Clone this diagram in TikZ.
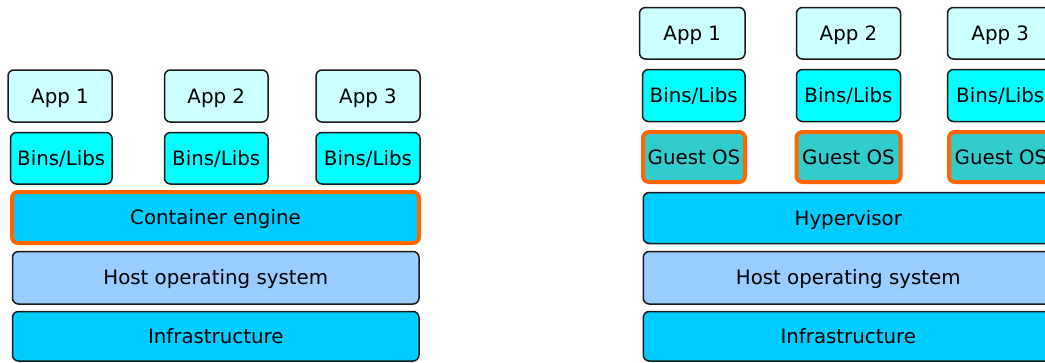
\documentclass[tikz,border=0pt]{standalone}
\usepackage{fontspec}
\setmainfont{DejaVu Sans}
\definecolor{appfill}{HTML}{CCFFFF}
\definecolor{binsfill}{HTML}{00FFFF}
\definecolor{layerblue}{HTML}{00CCFF}
\definecolor{hostfill}{HTML}{99CCFF}
\definecolor{guestfill}{HTML}{33CCCC}
\definecolor{hiorange}{HTML}{FF6600}
\definecolor{edgegray}{HTML}{1A1A1A}
\tikzset{
  layer/.style={draw=edgegray, line width=1.5pt, rounded corners=6pt, rectangle,
    inner sep=0pt, outer sep=0pt, font=\fontsize{19.8pt}{22pt}\selectfont,
    text height=14.4pt, text depth=0pt, align=center},
  appbox/.style={layer, fill=appfill},
  binsbox/.style={layer, fill=binsfill},
  bluebox/.style={layer, fill=layerblue},
  hostbox/.style={layer, fill=hostfill},
  hilite/.style={draw=hiorange, line width=4pt},
  guestbox/.style={layer, fill=guestfill, hilite},
}
\begin{document}
\begin{tikzpicture}[x=1pt, y=-1pt]
\path[use as bounding box, clip] (0,0) rectangle (1045,362);
% ---------- left: containers ----------
\node[appbox, minimum width=104pt, minimum height=52pt] (la1) at (60,96) {App 1};
\node[appbox, minimum width=103.5pt, minimum height=52pt] (la2) at (216.25,96) {App 2};
\node[appbox, minimum width=104pt, minimum height=52pt] (la3) at (368,96) {App 3};
\node[binsbox, minimum width=101.5pt, minimum height=51.5pt] (lb1) at (61.25,158.25) {Bins/Libs};
\node[binsbox, minimum width=103.5pt, minimum height=51.5pt] (lb2) at (216.25,158.25) {Bins/Libs};
\node[binsbox, minimum width=104pt, minimum height=51.5pt] (lb3) at (368,158.25) {Bins/Libs};
\node[bluebox, hilite, minimum width=407pt, minimum height=51pt] (lce) at (215.5,217.5) {Container engine};
\node[hostbox, minimum width=406.5pt, minimum height=52.5pt] (lhost) at (215.75,277.75) {Host operating system};
\node[bluebox, minimum width=406.5pt, minimum height=49.5pt] (linfra) at (215.75,336.25) {Infrastructure};
% ---------- right: virtual machines ----------
\node[appbox, minimum width=105.5pt, minimum height=51.5pt] (ra1) at (692.25,33.25) {App 1};
\node[appbox, minimum width=104pt, minimum height=51.5pt] (ra2) at (848.5,33.25) {App 2};
\node[appbox, minimum width=105.5pt, minimum height=51.5pt] (ra3) at (1000.25,33.25) {App 3};
\node[binsbox, minimum width=102.5pt, minimum height=52pt] (rb1) at (693.75,95.5) {Bins/Libs};
\node[binsbox, minimum width=104pt, minimum height=52pt] (rb2) at (848.5,95.5) {Bins/Libs};
\node[binsbox, minimum width=105.5pt, minimum height=52pt] (rb3) at (1000.25,95.5) {Bins/Libs};
\node[guestbox, minimum width=102pt, minimum height=50pt] (rg1) at (694,157) {Guest OS};
\node[guestbox, minimum width=104pt, minimum height=50pt] (rg2) at (848.5,157) {Guest OS};
\node[guestbox, minimum width=104pt, minimum height=50pt] (rg3) at (1001,157) {Guest OS};
\node[bluebox, minimum width=410pt, minimum height=51pt] (rhyp) at (848.25,218) {Hypervisor};
\node[hostbox, minimum width=410pt, minimum height=52.5pt] (rhost) at (848.25,277.75) {Host operating system};
\node[bluebox, minimum width=410pt, minimum height=49.5pt] (rinfra) at (848.25,336.25) {Infrastructure};
\end{tikzpicture}
\end{document}
